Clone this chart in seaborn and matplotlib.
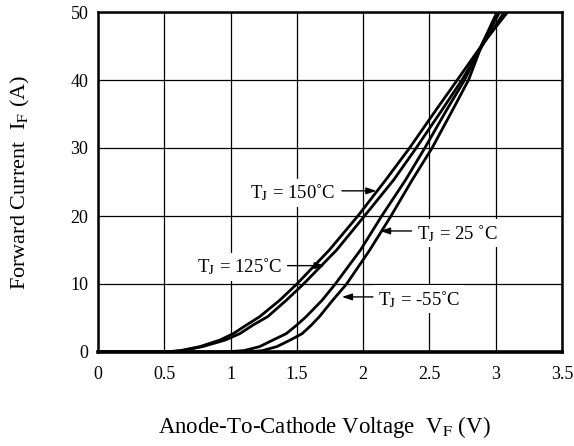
import numpy as np
import pandas as pd
import matplotlib
matplotlib.use("Agg")
import matplotlib.pyplot as plt
import seaborn as sns

# ---- data (forward current I in A vs voltage V) ----
i_150 = [0, 0, 0.2, 0.8, 1.76, 2.7, 3.97, 5.2, 7.6, 10, 15, 20, 25.3, 30, 35.6, 40, 45.4, 50]
v_150 = [0.0, 0.50, 0.62, 0.77, 0.92, 1.02, 1.12, 1.22, 1.37, 1.50, 1.745, 1.96, 2.17, 2.35, 2.55, 2.71, 2.905, 3.09]
i_125 = [0, 0, 0.2, 0.8, 1.76, 2.7, 3.97, 5.2, 7.6, 10, 15, 20, 25.3, 30, 35.6, 40, 45.4, 50]
v_125 = [0.0, 0.52, 0.64, 0.79, 0.96, 1.07, 1.17, 1.28, 1.42, 1.55, 1.80, 2.01, 2.23, 2.40, 2.595, 2.745, 2.91, 3.065]
i_25 = [0, 0, 0.2, 0.8, 1.76, 2.7, 3.97, 5.2, 7.6, 10, 15, 20, 25.3, 30, 35.6, 40, 45.4, 50]
v_25 = [0.0, 0.95, 1.10, 1.22, 1.32, 1.42, 1.50, 1.57, 1.69, 1.79, 1.98, 2.14, 2.32, 2.465, 2.63, 2.765, 2.90, 3.03]
i_m55 = [0, 0, 0.2, 0.8, 1.76, 2.7, 3.97, 5.2, 7.6, 10, 15, 20, 25.3, 30, 35.6, 40, 45.4, 50]
v_m55 = [0.0, 1.12, 1.24, 1.35, 1.45, 1.54, 1.61, 1.67, 1.77, 1.875, 2.05, 2.21, 2.37, 2.52, 2.675, 2.795, 2.90, 3.01]
series_names = ["150", "125", "25", "-55"]

x_ticks = [0, 0.5, 1, 1.5, 2, 2.5, 3, 3.5]
x_ticklabels = ["0", "0.5", "1", "1.5", "2", "2.5", "3", "3.5"]
y_ticks = [0, 10, 20, 30, 40, 50]
y_ticklabels = ["0", "10", "20", "30", "40", "50"]

labels = ["T$_\\mathrm{J}$ = 150\u02daC", "T$_\\mathrm{J}$ = 125\u02daC",
          "T$_\\mathrm{J}$ = 25 \u02daC", "T$_\\mathrm{J}$ = -55\u02daC"]
label_pos = [(1.79, 23.4), (1.393, 12.55), (2.403, 17.45), (2.112, 7.75)]
label_ha = ["right", "right", "left", "left"]
arrow_tail = [(1.84, 23.7), (1.43, 12.7), (2.365, 17.8), (2.074, 8.1)]
arrow_tip = [(2.10, 23.7), (1.71, 12.7), (2.127, 17.8), (1.84, 8.1)]

rows = []
for name, vs, cs in zip(series_names, [v_150, v_125, v_25, v_m55], [i_150, i_125, i_25, i_m55]):
    for k, (v, c) in enumerate(zip(vs, cs)):
        rows.append({"T": name, "V": v, "I": c, "order": k})
df = pd.DataFrame(rows)

sns.set_style("white")
plt.rcParams["font.family"] = ["Liberation Serif", "DejaVu Serif"]
plt.rcParams["mathtext.fontset"] = "stix"

fig = plt.figure(figsize=(5.74, 4.46), dpi=100)
ax = fig.add_axes([98 / 574, (446 - 352) / 446, 464 / 574, 340 / 446])

ax.set_xlim(0, 3.5)
ax.set_ylim(0, 50)
ax.set_xticks(x_ticks)
ax.set_xticklabels(x_ticklabels)
ax.set_yticks(y_ticks)
ax.set_yticklabels(y_ticklabels)
ax.grid(True, color="black", linewidth=0.9)
ax.set_axisbelow(True)

sns.lineplot(data=df, x="V", y="I", hue="T", palette=["black"] * 4,
             estimator=None, sort=False, legend=False, linewidth=2.0, ax=ax)
for ln in ax.lines:
    ln.set_solid_joinstyle("round")

for sp in ["left", "right", "top"]:
    ax.spines[sp].set_linewidth(1.8)
    ax.spines[sp].set_color("black")
ax.spines["bottom"].set_linewidth(2.6)
ax.spines["bottom"].set_color("black")

ax.tick_params(axis="x", length=0, pad=10, labelsize=13, colors="black")
ax.tick_params(axis="y", length=0, pad=7, labelsize=13, colors="black")

for txt, pos, ha, tail, tip in zip(labels, label_pos, label_ha, arrow_tail, arrow_tip):
    ax.text(pos[0], pos[1], txt, ha=ha, va="center", fontsize=13.5, color="black",
            bbox=dict(facecolor="white", edgecolor="none", pad=2.5), zorder=5)
    ax.annotate("", xy=tip, xytext=tail,
                arrowprops=dict(arrowstyle="-|>,head_length=0.6,head_width=0.2",
                                color="black", lw=1.0, shrinkA=0, shrinkB=0),
                zorder=6)

ax.set_xlabel("Anode-To-Cathode Voltage  V$_\\mathrm{F}$ (V)", fontsize=16.5, color="black")
ax.set_ylabel("Forward Current  I$_\\mathrm{F}$ (A)", fontsize=16, color="black")
ax.xaxis.label.set_va("center")
ax.yaxis.label.set_va("center")
ax.xaxis.set_label_coords(0.487, -0.22)
ax.yaxis.set_label_coords(-0.168, 0.5)

fig.savefig("out.png", dpi=100, facecolor="white")
